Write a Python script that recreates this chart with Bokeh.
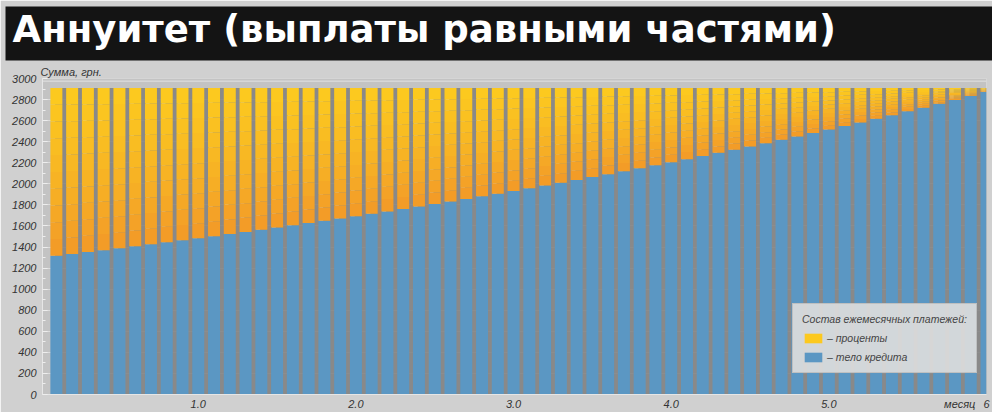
from bokeh.plotting import figure
from bokeh.models import (Range1d, FixedTicker, Legend, LegendItem,
                          ColumnDataSource, Span, Title)
from bokeh.embed import file_html
from bokeh.resources import INLINE

# ---------------- data ----------------
title_text = "Аннуитет (выплаты равными частями)"
y_label = "Сумма, грн."
x_label = "месяц"
legend_title = "Состав ежемесячных платежей:"
legend_interest = "– проценты"
legend_principal = "– тело кредита"

months = list(range(1, 61))
payment = 2910  # monthly annuity payment, грн.
principal = [1317, 1334, 1352, 1370, 1388, 1407, 1426, 1445, 1464, 1483,
             1503, 1523, 1543, 1564, 1585, 1606, 1627, 1649, 1671, 1693,
             1715, 1738, 1761, 1785, 1808, 1832, 1857, 1881, 1906, 1932,
             1958, 1984, 2010, 2037, 2064, 2091, 2119, 2147, 2176, 2205,
             2234, 2264, 2294, 2324, 2355, 2386, 2418, 2450, 2483, 2516,
             2549, 2583, 2618, 2652, 2688, 2723, 2760, 2796, 2834, 2871]
interest = [payment - p for p in principal]

x_tick_positions = [10, 20, 30, 40, 50, 60]
x_tick_labels = ["1.0", "2.0", "3.0", "4.0", "5.0", "6"]
x_label_position = 58.3
y_ticks = list(range(0, 3001, 200))

# ---------------- styles ----------------
FONT = "Liberation Sans"
BLUE = "#5b97c3"
GRAD = ["#f39c27", "#f4a227", "#f5a826", "#f6ae25", "#f7b324",
        "#f8b823", "#f9bd22", "#fac121", "#fbc520", "#fcc91f"]

p = figure(width=992, height=412, output_backend="svg", toolbar_location=None,
           x_range=Range1d(0.12, 60), y_range=Range1d(0, 3000),
           min_border_left=42, min_border_right=6, min_border_top=78, min_border_bottom=15,
           border_fill_color="#d0d0d0", background_fill_color="#c3c3c3",
           outline_line_color=None)

# y-axis caption (closest to the frame), then the black banner above it
p.add_layout(Title(text=y_label, align="left", vertical_align="bottom",
                   offset=-2, standoff=2,
                   text_font=FONT, text_font_style="italic",
                   text_font_size="11px", text_color="#333333"), "above")
p.add_layout(Title(text=title_text, align="left", vertical_align="bottom",
                   offset=-37, standoff=4,
                   text_font="DejaVu Sans", text_font_style="bold",
                   text_font_size="37px", text_color="white",
                   background_fill_color="#141414",
                   padding=(7, 1000, 1, 10)), "above")

src = ColumnDataSource(dict(month=months, principal=principal, interest=interest,
                            total=[payment] * len(months),
                            shadow_x=[m + 0.3 for m in months]))

bw = 0.76
# drop shadow
p.vbar(x="shadow_x", top="total", bottom=0, width=bw, source=src,
       fill_color="#7f7f7f", line_color=None, fill_alpha=0.85)
# principal
r_princ = p.vbar(x="month", top="principal", bottom=0, width=bw, source=src,
                 fill_color=BLUE, line_color=None)
# interest (painted as a vertical gradient in steps)
n = len(GRAD)
r_int = None
for i, c in enumerate(GRAD):
    b = [pp + ii * i / n for pp, ii in zip(principal, interest)]
    t = [pp + ii * (i + 1) / n for pp, ii in zip(principal, interest)]
    r_int = p.vbar(x=months, bottom=b, top=t, width=bw, fill_color=c, line_color=None)

# top frame line
p.add_layout(Span(location=2975, dimension="width", line_color="#e2e2e2", line_width=1))

# axes
overrides = {k: v for k, v in zip(x_tick_positions, x_tick_labels)}
overrides[x_label_position] = x_label
p.xaxis.ticker = FixedTicker(ticks=x_tick_positions + [x_label_position])
p.xaxis.major_label_overrides = overrides
p.xaxis.major_tick_out = 0
p.xaxis.major_tick_in = 0
p.xaxis.minor_tick_line_color = None
p.xaxis.axis_line_color = "#e6e6e6"
p.xaxis.major_label_standoff = 3

p.yaxis.ticker = FixedTicker(ticks=y_ticks, minor_ticks=list(range(100, 3000, 200)))
p.yaxis.major_tick_out = 0
p.yaxis.major_tick_in = 5
p.yaxis.minor_tick_in = 3
p.yaxis.minor_tick_out = 0
p.yaxis.major_tick_line_color = "#eeeeee"
p.yaxis.minor_tick_line_color = "#eeeeee"
p.yaxis.axis_line_color = "#e6e6e6"
p.yaxis.major_label_standoff = 6

for ax in (p.xaxis, p.yaxis):
    ax.major_label_text_font = FONT
    ax.major_label_text_font_style = "italic"
    ax.major_label_text_font_size = "11px"
    ax.major_label_text_color = "#333333"

p.xgrid.grid_line_color = None
p.ygrid.ticker = FixedTicker(ticks=y_ticks)
p.ygrid.grid_line_color = "#e4e4e4"
p.ygrid.grid_line_alpha = 0.8

legend = Legend(items=[LegendItem(label=legend_interest, renderers=[r_int]),
                       LegendItem(label=legend_principal, renderers=[r_princ])],
                title=legend_title, location=(750, 21),
                title_text_font=FONT, title_text_font_style="italic",
                title_text_font_size="10.5px", title_text_color="#444444",
                title_standoff=6,
                label_text_font=FONT, label_text_font_style="italic",
                label_text_font_size="10.5px", label_text_color="#444444",
                glyph_width=22, glyph_height=12, label_height=13, spacing=6,
                label_standoff=3, padding=9, margin=0,
                background_fill_color="#dcdcdc", background_fill_alpha=0.92,
                border_line_color="#b0b0b0", border_line_alpha=0.6)
p.add_layout(legend)

open("out.html", "w").write(file_html(p, INLINE))
